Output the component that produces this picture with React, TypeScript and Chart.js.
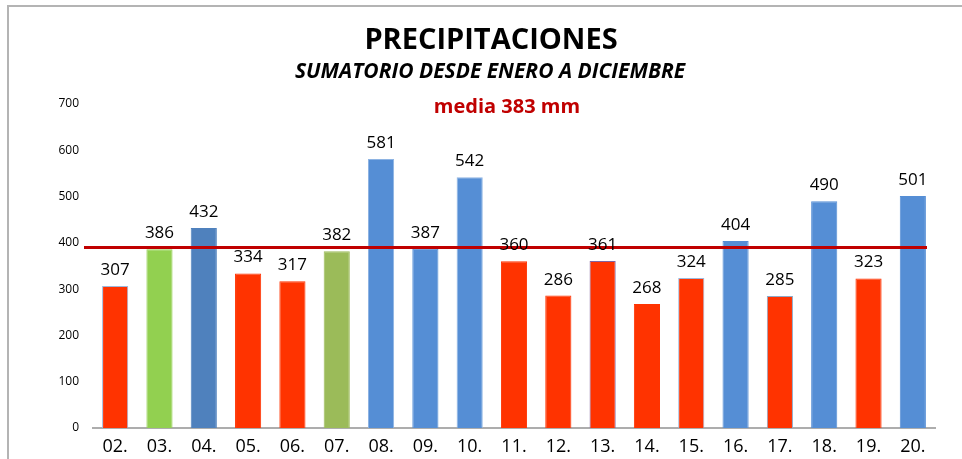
import React, { useEffect, useRef } from "react";
import { Chart, registerables } from "chart.js";

Chart.register(...registerables);

const categories = ["02.", "03.", "04.", "05.", "06.", "07.", "08.", "09.", "10.", "11.", "12.", "13.", "14.", "15.", "16.", "17.", "18.", "19.", "20."];
const values = [307, 386, 432, 334, 317, 382, 581, 387, 542, 360, 286, 361, 268, 324, 404, 285, 490, 323, 501];

const RED = "#FF3300";
const BLUE = "#558ED5";
const barColors = [RED, "#92D050", "#4F81BD", RED, RED, "#9BBB59", BLUE, BLUE, BLUE, RED, RED, RED, RED, RED, BLUE, RED, BLUE, RED, BLUE];
const barBorders = ["#9DB8DC", "#92D050", "#4F81BD", RED, RED, "#9BBB59", "#8EB4E3", BLUE, "#8EB4E3", RED, RED, "#8064A2", RED, "#9DB8DC", BLUE, "#8EA9C8", BLUE, RED, BLUE];

const yMin = 0;
const yMax = 700;
const yStep = 100;

const titleText = "PRECIPITACIONES";
const subtitleText = "SUMATORIO DESDE ENERO A DICIEMBRE";
const mediaText = "media 383 mm";
const mediaLineValue = 390;

const FONT = "'Open Sans', 'Noto Sans', sans-serif";

const decorPlugin = {
  id: "decor",
  beforeDraw(chart: any) {
    const { ctx, width, height } = chart;
    ctx.save();
    ctx.fillStyle = "#ffffff";
    ctx.fillRect(0, 0, width, height);
    ctx.strokeStyle = "#B4B4B4";
    ctx.lineWidth = 2;
    ctx.strokeRect(8, 6, width + 20, height + 20);
    ctx.restore();
  },
  afterDatasetsDraw(chart: any) {
    const { ctx, chartArea } = chart;
    const yScale = chart.scales.y;
    ctx.save();
    const ly = yScale.getPixelForValue(mediaLineValue);
    ctx.strokeStyle = "#C00000";
    ctx.lineWidth = 3;
    ctx.beginPath();
    ctx.moveTo(chartArea.left - 9, ly);
    ctx.lineTo(chartArea.right - 8, ly);
    ctx.stroke();
    const meta = chart.getDatasetMeta(0);
    ctx.fillStyle = "#000000";
    ctx.font = `17px ${FONT}`;
    ctx.textAlign = "center";
    ctx.textBaseline = "alphabetic";
    meta.data.forEach((bar: any, i: number) => {
      ctx.fillText(String(values[i]), bar.x, bar.y - 11);
    });
    ctx.restore();
  },
  afterDraw(chart: any) {
    const { ctx } = chart;
    ctx.save();
    ctx.textAlign = "center";
    ctx.textBaseline = "middle";
    ctx.fillStyle = "#000000";
    ctx.font = `bold 29px ${FONT}`;
    ctx.fillText(titleText, 491, 41);
    ctx.font = `italic bold 21px ${FONT}`;
    ctx.fillText(subtitleText, 490, 72);
    ctx.fillStyle = "#C00000";
    ctx.font = `bold 20px ${FONT}`;
    ctx.fillText(mediaText, 507, 107);
    ctx.restore();
  },
};

export default function App() {
  const canvasRef = useRef<HTMLCanvasElement | null>(null);

  useEffect(() => {
    if (!canvasRef.current) return;
    const chart = new Chart(canvasRef.current, {
      type: "bar",
      data: {
        labels: categories,
        datasets: [
          {
            data: values,
            backgroundColor: barColors,
            borderColor: barBorders,
            borderWidth: 1,
            categoryPercentage: 1,
            barPercentage: 0.59,
          },
        ],
      },
      options: {
        responsive: false,
        animation: false,
        layout: { padding: { top: 104, right: 27, left: 0, bottom: 0 } },
        plugins: {
          legend: { display: false },
          title: { display: false },
          tooltip: { enabled: false },
        },
        scales: {
          x: {
            grid: { display: false, drawTicks: false },
            border: { display: true, color: "#ADADAD", width: 2 },
            ticks: { color: "#000000", font: { family: FONT, size: 18 }, padding: 8, maxRotation: 0, autoSkip: false },
            afterFit(scale: any) {
              scale.height = 31;
            },
          },
          y: {
            min: yMin,
            max: yMax,
            grid: { display: false, drawTicks: false },
            border: { display: false },
            ticks: { stepSize: yStep, color: "#000000", font: { family: FONT, size: 12 }, padding: 14 },
            afterFit(scale: any) {
              scale.width = 93;
            },
          },
        },
      },
      plugins: [decorPlugin],
    });
    return () => chart.destroy();
  }, []);

  return (
    <div style={{ position: "absolute", left: 0, top: 0, width: 962, height: 459, overflow: "hidden" }}>
      <canvas ref={canvasRef} width={962} height={459} style={{ display: "block", width: 962, height: 459 }} />
    </div>
  );
}
